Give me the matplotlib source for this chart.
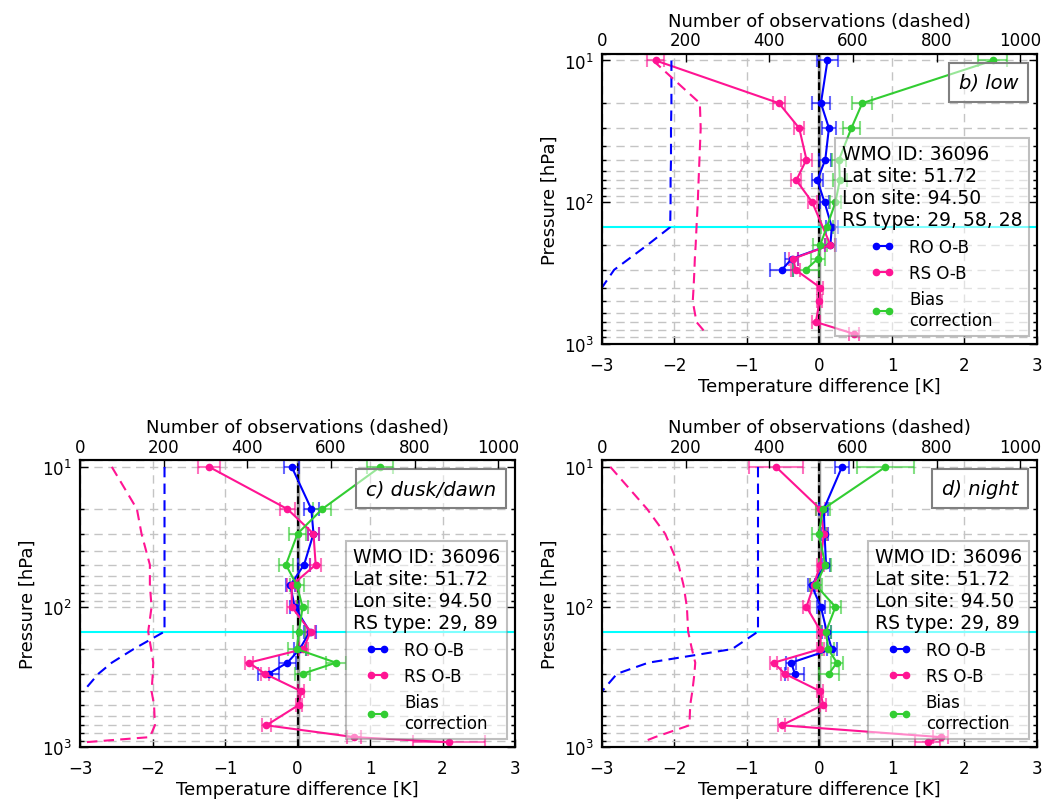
import matplotlib
matplotlib.use("Agg")
import matplotlib.pyplot as plt
import numpy as np
from matplotlib.ticker import NullFormatter

nan = np.nan
levels = np.array([10, 20, 30, 50, 70, 100, 150, 200, 250, 300, 400, 500, 700, 850, 925])

# b) low
b_ro = [0.11, 0.02, 0.13, 0.08, -0.03, 0.07, 0.17, 0.15, -0.38, -0.52, nan, nan, nan, nan, nan]
b_ro_err = [0.15, 0.12, 0.10, 0.08, 0.08, 0.06, 0.08, 0.08, 0.09, 0.16, nan, nan, nan, nan, nan]
b_rs = [-2.26, -0.56, -0.28, -0.18, -0.32, -0.10, nan, 0.15, -0.36, -0.33, 0.01, 0.0, -0.05, 0.48, nan]
b_rs_err = [0.12, 0.08, 0.07, 0.07, 0.07, 0.06, nan, 0.07, 0.06, 0.06, 0.04, 0.04, 0.06, 0.07, nan]
b_bc = [2.39, 0.59, 0.44, 0.27, 0.28, 0.22, 0.10, 0.01, -0.02, -0.19, nan, nan, nan, nan, nan]
b_bc_err = [0.20, 0.14, 0.12, 0.10, 0.10, 0.08, 0.08, 0.10, 0.10, 0.18, nan, nan, nan, nan, nan]
b_n_ro = [166, 166, 165, 165, 164, 164, 163, 109, 65, 29, 0, nan, nan, nan, nan]
b_n_rs = [122, 234, 236, 233, 231, 229, 226, 224, 222, 221, 219, 217, 226, 250, nan]

# c) dusk/dawn
c_ro = [-0.08, 0.19, 0.22, 0.09, -0.10, -0.04, 0.17, 0.03, -0.14, -0.40, nan, nan, nan, nan, nan]
c_ro_err = [0.10, 0.10, 0.08, 0.08, 0.06, 0.06, 0.08, 0.08, 0.12, 0.15, nan, nan, nan, nan, nan]
c_rs = [-1.22, -0.14, 0.22, 0.25, -0.08, -0.08, 0.18, 0.08, -0.67, -0.45, 0.05, 0.02, -0.43, 0.78, 2.09]
c_rs_err = [0.15, 0.10, 0.08, 0.08, 0.06, 0.06, 0.06, 0.06, 0.06, 0.06, 0.04, 0.04, 0.06, 0.10, 0.50]
c_bc = [1.14, 0.34, 0.0, -0.16, -0.01, 0.07, 0.02, -0.01, 0.53, 0.07, nan, nan, nan, nan, nan]
c_bc_err = [0.18, 0.12, 0.12, 0.10, 0.10, 0.08, 0.08, 0.12, 0.14, 0.10, nan, nan, nan, nan, nan]
c_n_ro = [202, 202, 202, 202, 202, 202, 202, 128, 76, 44, 8, nan, nan, nan, nan]
c_n_rs = [76, 136, 147, 167, 167, 171, 163, 170, 175, 174, 171, 177, 179, 167, 12]

# d) night
d_ro = [0.31, 0.06, 0.07, 0.09, -0.11, 0.02, 0.10, 0.17, -0.39, -0.34, nan, nan, nan, nan, nan]
d_ro_err = [0.10, 0.06, 0.05, 0.05, 0.05, 0.05, 0.06, 0.07, 0.07, 0.13, nan, nan, nan, nan, nan]
d_rs = [-0.60, 0.01, 0.06, 0.01, -0.08, -0.18, 0.02, 0.01, -0.63, -0.48, 0.01, 0.05, -0.52, 1.67, 1.49]
d_rs_err = [0.37, 0.06, 0.05, 0.05, 0.05, 0.05, 0.05, 0.05, 0.05, 0.05, 0.04, 0.04, 0.05, 0.10, 0.17]
d_bc = [0.91, 0.05, -0.01, 0.08, -0.05, 0.22, 0.09, 0.12, 0.24, 0.13, nan, nan, nan, nan, nan]
d_bc_err = [0.39, 0.10, 0.10, 0.08, 0.08, 0.08, 0.07, 0.08, 0.08, 0.14, nan, nan, nan, nan, nan]
d_n_ro = [373, 373, 373, 373, 373, 373, 373, 311, 111, 36, 0, nan, nan, nan, nan]
d_n_rs = [20, 108, 151, 183, 195, 203, 206, 215, 223, 221, 216, 211, 209, 127, 96]

info_b = "WMO ID: 36096\nLat site: 51.72\nLon site: 94.50\nRS type: 29, 58, 28"
info_cd = "WMO ID: 36096\nLat site: 51.72\nLon site: 94.50\nRS type: 29, 89"

c_blue = "#0000ff"
c_pink = "#ff1493"
c_green = "#32cd32"
gridcol = "#c4c4c4"

fig = plt.figure(figsize=(10.46, 8.03), dpi=100)


def series(ax, vals, errs, col):
    v = np.array(vals, dtype=float)
    e = np.array(errs, dtype=float)
    m = ~np.isnan(v)
    ax.errorbar(v[m], levels[m], xerr=e[m], fmt="none", ecolor=col, alpha=0.6,
                elinewidth=1.5, capsize=5, capthick=1.5, zorder=3)
    line, = ax.plot(v[m], levels[m], "-o", color=col, lw=1.5, ms=4.5, mec=col, zorder=4)
    return line


def panel(rect, name, ro, ro_err, rs, rs_err, bc, bc_err, n_ro, n_rs, info):
    ax = fig.add_axes(rect)
    ax.set_yscale("log")
    ax.set_ylim(1000, 9)
    ax.set_xlim(-3, 3)
    ax.set_axisbelow(True)
    ax.grid(True, axis="x", which="major", ls="--", dashes=(6, 4), color=gridcol, lw=1)
    ax.grid(True, axis="y", which="both", ls="--", dashes=(6, 4), color=gridcol, lw=1)
    ax.axvline(0, color="#999999", lw=2.5, zorder=1.8)
    ax.axvline(0, color="k", ls="--", lw=1.5, zorder=2)
    ax.axhline(150, color="cyan", lw=1.5, zorder=2)

    h1 = series(ax, ro, ro_err, c_blue)
    h2 = series(ax, rs, rs_err, c_pink)
    h3 = series(ax, bc, bc_err, c_green)

    ax.set_xlabel("Temperature difference [K]", fontsize=13, labelpad=2)
    ax.set_ylabel("Pressure [hPa]", fontsize=13)
    ax.yaxis.set_minor_formatter(NullFormatter())
    ax.tick_params(which="both", direction="in", right=True, labelsize=12)
    ax.tick_params(which="major", length=6, width=1)
    ax.tick_params(which="minor", length=3, width=1)
    ax.tick_params(axis="x", pad=9)
    ax.tick_params(axis="y", pad=6)

    leg = ax.legend([h1, h2, h3], ["RO O-B", "RS O-B", "Bias\ncorrection"],
                    loc="lower right", title=info, fontsize=12, title_fontsize=13.5,
                    numpoints=2, handlelength=1.4, handletextpad=0.9,
                    fancybox=False, framealpha=0.5, edgecolor="gray")
    leg.get_frame().set_linewidth(1.5)
    leg.get_title().set_multialignment("left")

    ax.text(0.957, 0.935, name, transform=ax.transAxes, ha="right", va="top",
            fontsize=14, style="italic", zorder=6,
            bbox=dict(boxstyle="square,pad=0.5", fc=(1, 1, 1, 0.5), ec="gray", lw=1.5))

    axt = ax.twiny()
    axt.set_xlim(0, 1040)
    axt.set_xticks([0, 200, 400, 600, 800, 1000])
    axt.plot(n_ro, levels, color=c_blue, ls="--", dashes=(5, 3), lw=1.5)
    axt.plot(n_rs, levels, color=c_pink, ls="--", dashes=(5, 3), lw=1.5)
    axt.set_xlabel("Number of observations (dashed)", fontsize=13)
    axt.tick_params(direction="in", length=6, width=1, labelsize=12)
    for s in list(ax.spines.values()) + list(axt.spines.values()):
        s.set_linewidth(1.5)
    return ax


panel([0.5755, 0.5704, 0.4159, 0.3611], "b) low", b_ro, b_ro_err, b_rs, b_rs_err,
      b_bc, b_bc_err, b_n_ro, b_n_rs, info_b)
panel([0.0765, 0.0685, 0.4159, 0.3568], "c) dusk/dawn", c_ro, c_ro_err, c_rs, c_rs_err,
      c_bc, c_bc_err, c_n_ro, c_n_rs, info_cd)
panel([0.5755, 0.0685, 0.4159, 0.3568], "d) night", d_ro, d_ro_err, d_rs, d_rs_err,
      d_bc, d_bc_err, d_n_ro, d_n_rs, info_cd)

fig.savefig("out.png", dpi=100)
